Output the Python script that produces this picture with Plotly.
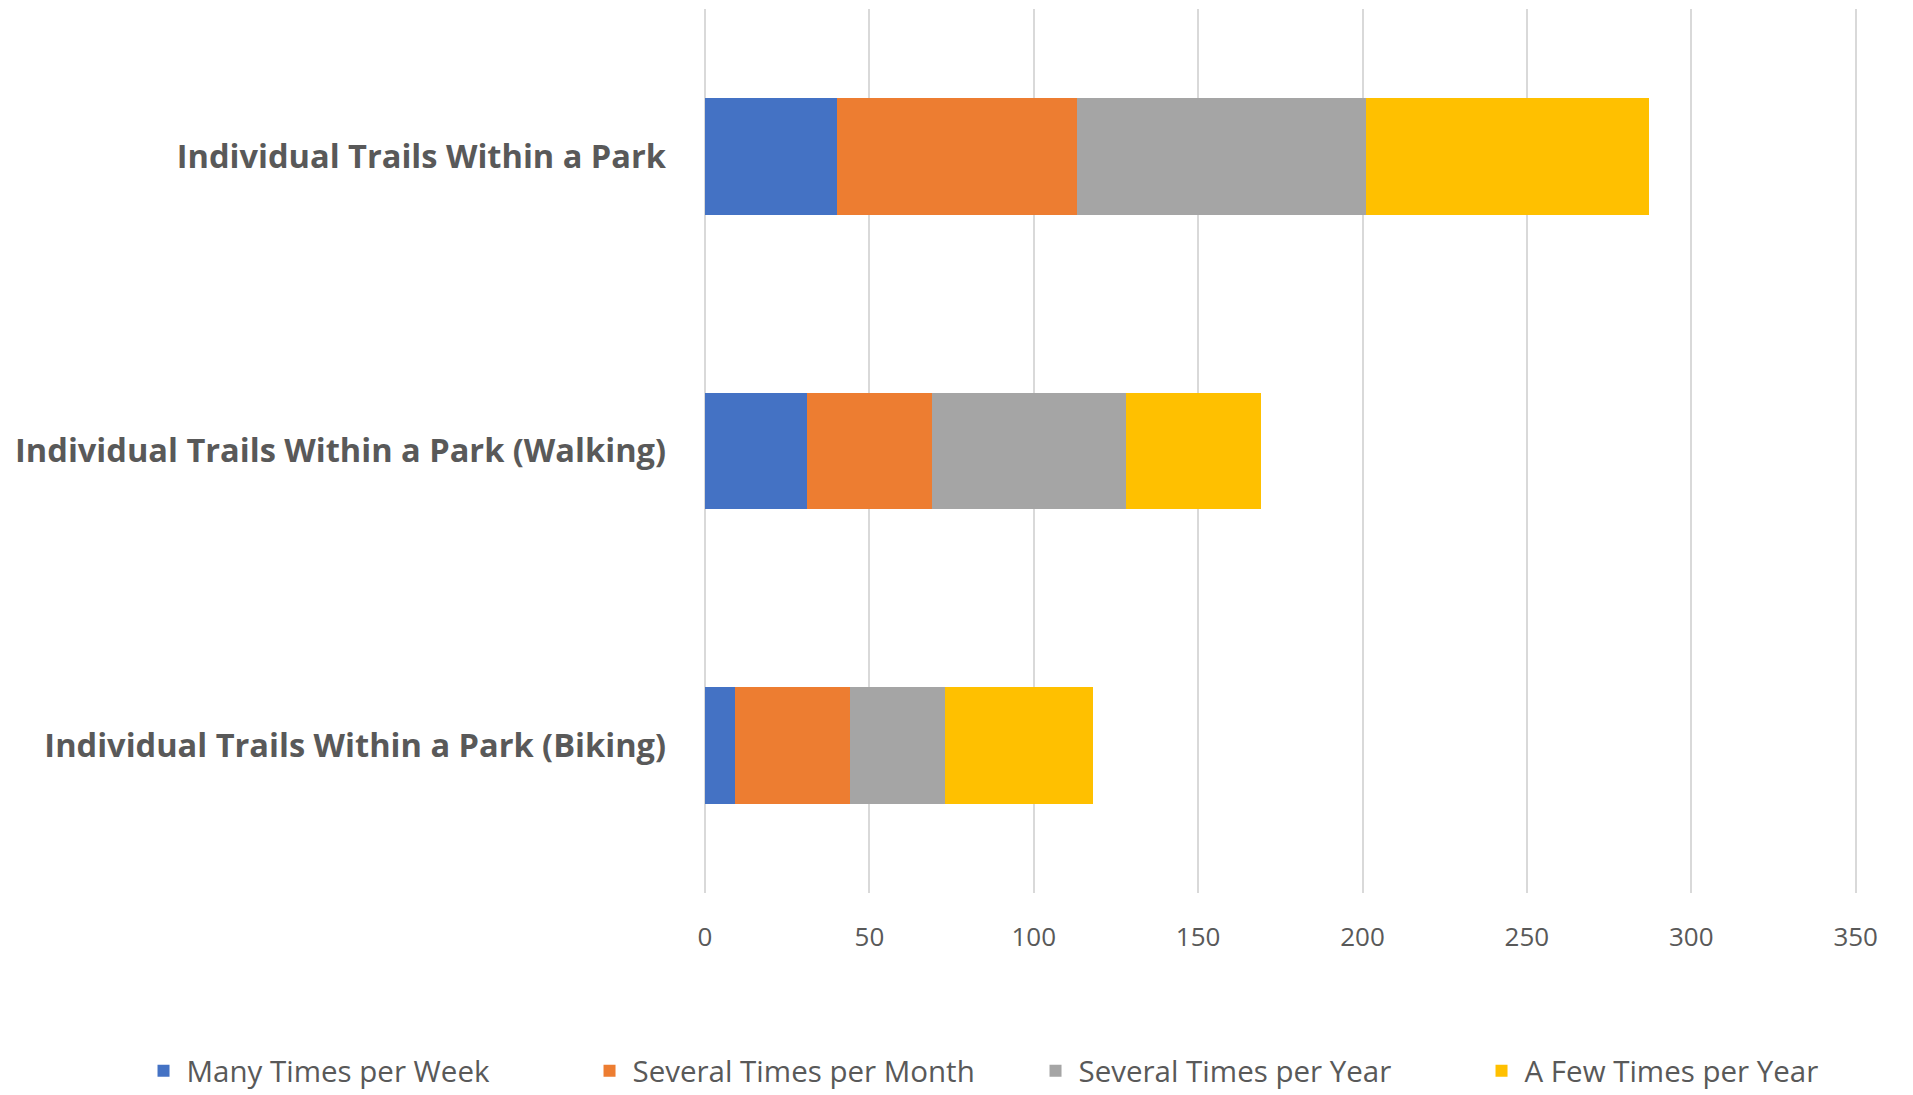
import plotly.graph_objects as go

categories = [
    "Individual Trails Within a Park",
    "Individual Trails Within a Park (Walking)",
    "Individual Trails Within a Park (Biking)",
]
series_names = [
    "Many Times per Week",
    "Several Times per Month",
    "Several Times per Year",
    "A Few Times per Year",
]
many_week = [40, 31, 9]
several_month = [73, 38, 35]
several_year = [88, 59, 29]
few_year = [86, 41, 45]
colors = ["#4472C4", "#ED7D31", "#A5A5A5", "#FFC000"]
x_ticks = [0, 50, 100, 150, 200, 250, 300, 350]

values = [many_week, several_month, several_year, few_year]

fig = go.Figure()
for name, vals, col in zip(series_names, values, colors):
    fig.add_trace(go.Bar(
        y=categories, x=vals, name=name, orientation="h",
        marker=dict(color=col, line=dict(width=0)),
    ))

TXT = "#595959"
GRID = "#D9D9D9"
fig.update_layout(
    width=1913, height=1095,
    barmode="stack", bargap=0.603,
    plot_bgcolor="white", paper_bgcolor="white",
    margin=dict(l=705, r=56, t=9, b=202, autoexpand=False),
    font=dict(family="Open Sans", color=TXT),
    xaxis=dict(range=[0, 350.4], tickvals=x_ticks, showgrid=True,
               gridcolor=GRID, gridwidth=2, zeroline=True,
               zerolinecolor=GRID, zerolinewidth=2,
               showline=False, ticks="", tickfont=dict(size=26, color=TXT),
               ticklabelstandoff=26, fixedrange=True, automargin=False),
    yaxis=dict(categoryorder="array", categoryarray=categories,
               autorange="reversed", showgrid=False, zeroline=False,
               showline=False, ticks="",
               tickfont=dict(size=32.6, color=TXT, family="Open Sans", weight="bold"),
               ticklabelstandoff=38, automargin=False),
    showlegend=True,
    legend=dict(orientation="h", x=-0.490, xanchor="left",
                y=-0.2014, yanchor="middle",
                font=dict(size=29.5, color=TXT), traceorder="normal",
                entrywidth=395, itemwidth=36),
)

fig.write_html("out.html", config={"displayModeBar": False},
               post_script="document.body.style.margin='0';")
